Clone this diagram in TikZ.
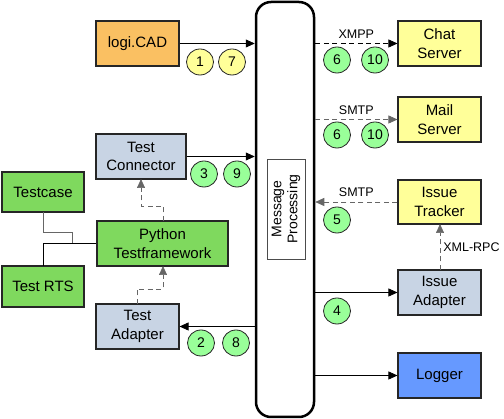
\documentclass[tikz,border=0pt]{standalone}
\usepackage{fontspec}
\setmainfont{Liberation Sans}
\usetikzlibrary{arrows.meta}
\definecolor{cadorange}{HTML}{FAC062}
\definecolor{lyellow}{HTML}{FFFF99}
\definecolor{bluegrey}{HTML}{C8D4E4}
\definecolor{boxgreen}{HTML}{7FD95E}
\definecolor{circgreen}{HTML}{99FF99}
\definecolor{logblue}{HTML}{6699FF}
\definecolor{dgray}{HTML}{666666}
\tikzset{
  box/.style={draw=black!85, line width=1.1pt, minimum width=#1, align=center, font=\fontsize{15}{18.5}\selectfont, inner sep=0pt},
  box/.default=83pt,
  num/.style={draw=black!85, line width=0.8pt, ellipse, minimum width=27pt, minimum height=26pt, inner sep=0pt, font=\fontsize{14}{16}\selectfont},
  lbl/.style={font=\fontsize{12.5}{14}\selectfont, inner sep=0pt, text=black},
  arr/.style={-{Triangle[length=9pt,width=8pt]}, line width=0.7pt},
  darr/.style={arr, dash pattern=on 5pt off 3.5pt},
}
\usetikzlibrary{shapes.geometric}
\begin{document}
\begin{tikzpicture}[x=1pt,y=-1pt]
\useasboundingbox (0,0) rectangle (504,419);
% central bar
\node[draw=black, line width=2.5pt, rounded corners=15pt, minimum width=58pt, minimum height=415pt] (bar) at (285,209.5) {};
\node[draw=black!70, line width=0.6pt, minimum width=38pt, minimum height=100pt, inner sep=0pt] (mp) at (286,209) {};
\node[rotate=90, align=center, font=\fontsize{14}{16}\selectfont] (mptext) at (mp.center) {Message\\Processing};
% left nodes
\node[box, fill=cadorange, minimum height=45pt] (logi) at (137.5,43.5) {logi.CAD};
\node[box=90pt, fill=bluegrey, minimum height=45pt] (tcon) at (141,156.5) {Test\\Connector};
\node[box=82pt, fill=boxgreen, minimum height=40pt] (tcase) at (43,192) {Testcase};
\node[box=131pt, fill=boxgreen, minimum height=45pt] (py) at (162.5,243.5) {Python\\Testframework};
\node[box=82pt, fill=boxgreen, minimum height=41pt] (rts) at (43,286.5) {Test RTS};
\node[box, fill=bluegrey, minimum height=45pt] (tad) at (137.5,326.5) {Test\\Adapter};
% right nodes
\node[box, fill=lyellow, minimum height=45pt] (chat) at (439.5,43.5) {Chat\\Server};
\node[box, fill=lyellow, minimum height=45pt] (mail) at (439.5,119.5) {Mail\\Server};
\node[box, fill=lyellow, minimum height=44pt] (itr) at (439.5,202) {Issue\\Tracker};
\node[box, fill=bluegrey, minimum height=45pt] (iad) at (439.5,292.5) {Issue\\Adapter};
\node[box, fill=logblue, minimum height=45pt] (log) at (439.5,375.5) {Logger};
% numbered circles
\node[num, fill=lyellow] (c1) at (200,62) {1};
\node[num, fill=lyellow] (c7) at (232,62) {7};
\node[num, fill=circgreen] (c3) at (204,174) {3};
\node[num, fill=circgreen] (c9) at (237,174) {9};
\node[num, fill=circgreen] (c2) at (201,343) {2};
\node[num, fill=circgreen] (c8) at (236,343) {8};
\node[num, fill=circgreen] (c6a) at (337,60) {6};
\node[num, fill=circgreen] (c10a) at (375,60) {10};
\node[num, fill=circgreen] (c6b) at (337,135) {6};
\node[num, fill=circgreen] (c10b) at (375,135) {10};
\node[num, fill=circgreen] (c5) at (337,220) {5};
\node[num, fill=circgreen] (c4) at (337,311) {4};
% connectors to/from bar
\draw[arr] (logi.east) -- (logi.east -| bar.west);
\draw[arr] (tcon.east) -- (tcon.east -| bar.west);
\draw[arr] (tad.east -| bar.west) -- (tad.east);
\draw[darr, black] (chat.west -| bar.east) -- node[lbl, above=5pt] (xmpp) {XMPP} (chat.west);
\draw[darr, dgray] (mail.west -| bar.east) -- node[lbl, above=5pt] (smtp1) {SMTP} (mail.west);
\draw[darr, dgray] (itr.west) -- node[lbl, above=5pt] (smtp2) {SMTP} (itr.west -| bar.east);
\draw[arr] (iad.west -| bar.east) -- (iad.west);
\draw[arr] (log.west -| bar.east) -- (log.west);
% dashed internal
\coordinate (pytop) at (163,221);
\coordinate (tconbot) at (141,179);
\coordinate (tadtop) at (137,304);
\coordinate (pybot) at (163,266);
\coordinate (iadtop) at (440,270);
\coordinate (itrbot) at (440,224);
\draw[darr, dgray] (pytop) -- (163,206) -- (141,206) -- (tconbot);
\draw[darr, dgray] (tadtop) -- (137,289) -- (163,289) -- (pybot);
\draw[darr, dgray] (iadtop) -- node[lbl, right=3pt] (xmlrpc) {XML-RPC} (itrbot);
% solid connections of test nodes
\coordinate (tcasebot) at (43,212);
\coordinate (rtstop) at (43,266);
\coordinate (j1) at (72,243);
\draw[line width=0.8pt, dgray] (tcasebot) -- (43,232) -- (72,232) -- (j1);
\draw[line width=0.8pt, black] (py.west |- j1) -- (43,243) -- (rtstop);
\end{tikzpicture}
\end{document}
